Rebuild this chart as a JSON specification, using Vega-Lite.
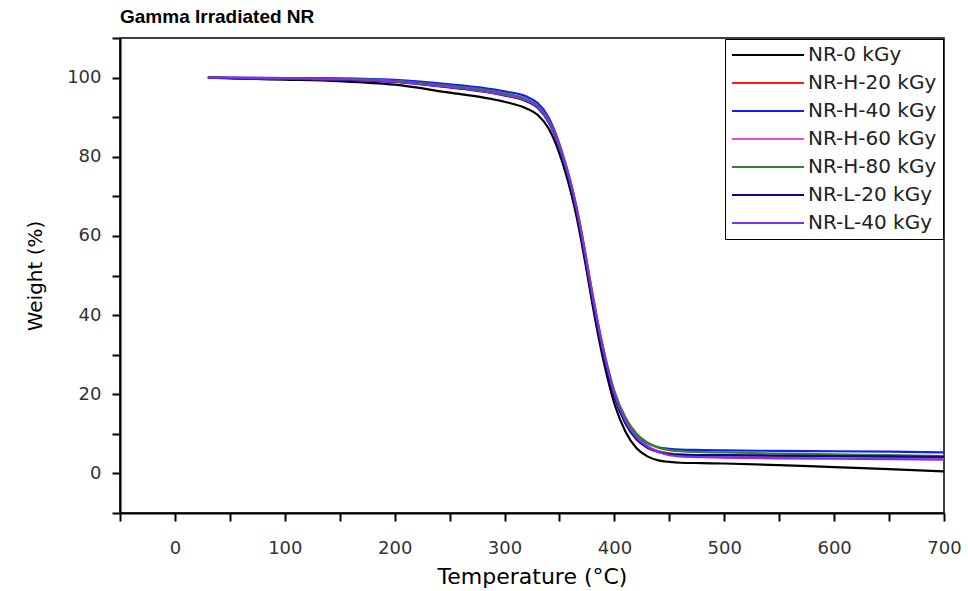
{
  "$schema": "https://vega.github.io/schema/vega-lite/v6.json",
  "autosize": {"type": "none"},
  "padding": {"left": 120, "top": 38, "right": 24, "bottom": 78},
  "width": 824,
  "height": 475,
  "background": "white",
  "title": {"text": "Gamma Irradiated NR", "anchor": "start", "frame": "group", "font": "Liberation Sans", "fontWeight": "bold", "fontSize": 19, "color": "black", "offset": 0, "baseline": "alphabetic", "dy": 13},
  "config": {
    "view": {"stroke": "black", "strokeWidth": 1.5},
    "axis": {"grid": false, "domainColor": "black", "domainWidth": 2, "tickColor": "black", "tickWidth": 2, "tickSize": 8, "labelFont": "DejaVu Sans", "labelFontSize": 18, "labelColor": "#333", "titleFont": "DejaVu Sans", "titleFontWeight": "normal", "titleColor": "black"}
  },
  "datasets": {
    "tga": [
      {"s":"NR-0 kGy","t":30,"w":100},{"s":"NR-0 kGy","t":50,"w":99.8},{"s":"NR-0 kGy","t":100,"w":99.5},{"s":"NR-0 kGy","t":150,"w":99.1},{"s":"NR-0 kGy","t":200,"w":98.2},{"s":"NR-0 kGy","t":250,"w":96.2},{"s":"NR-0 kGy","t":280,"w":95.0},{"s":"NR-0 kGy","t":300,"w":93.9},{"s":"NR-0 kGy","t":320,"w":92.2},{"s":"NR-0 kGy","t":330,"w":90.6},{"s":"NR-0 kGy","t":340,"w":87.2},{"s":"NR-0 kGy","t":345,"w":84.4},{"s":"NR-0 kGy","t":350,"w":80.8},{"s":"NR-0 kGy","t":355,"w":76.5},{"s":"NR-0 kGy","t":360,"w":71.5},{"s":"NR-0 kGy","t":365,"w":65.6},{"s":"NR-0 kGy","t":370,"w":58.6},{"s":"NR-0 kGy","t":375,"w":50.8},{"s":"NR-0 kGy","t":380,"w":42.8},{"s":"NR-0 kGy","t":385,"w":35.3},{"s":"NR-0 kGy","t":390,"w":28.6},{"s":"NR-0 kGy","t":395,"w":22.7},{"s":"NR-0 kGy","t":400,"w":17.6},{"s":"NR-0 kGy","t":410,"w":10.6},{"s":"NR-0 kGy","t":420,"w":6.4},{"s":"NR-0 kGy","t":430,"w":4.3},{"s":"NR-0 kGy","t":440,"w":3.3},{"s":"NR-0 kGy","t":450,"w":2.9},{"s":"NR-0 kGy","t":460,"w":2.7},{"s":"NR-0 kGy","t":480,"w":2.6},{"s":"NR-0 kGy","t":500,"w":2.5},{"s":"NR-0 kGy","t":550,"w":2.1},{"s":"NR-0 kGy","t":600,"w":1.6},{"s":"NR-0 kGy","t":650,"w":1.1},{"s":"NR-0 kGy","t":700,"w":0.5},
      {"s":"NR-H-20 kGy","t":30,"w":100},{"s":"NR-H-20 kGy","t":50,"w":99.9},{"s":"NR-H-20 kGy","t":100,"w":99.8},{"s":"NR-H-20 kGy","t":150,"w":99.6},{"s":"NR-H-20 kGy","t":200,"w":99.1},{"s":"NR-H-20 kGy","t":250,"w":97.8},{"s":"NR-H-20 kGy","t":280,"w":96.9},{"s":"NR-H-20 kGy","t":300,"w":95.8},{"s":"NR-H-20 kGy","t":320,"w":94.4},{"s":"NR-H-20 kGy","t":330,"w":92.8},{"s":"NR-H-20 kGy","t":340,"w":89.2},{"s":"NR-H-20 kGy","t":345,"w":86.3},{"s":"NR-H-20 kGy","t":350,"w":82.5},{"s":"NR-H-20 kGy","t":355,"w":78.2},{"s":"NR-H-20 kGy","t":360,"w":73.2},{"s":"NR-H-20 kGy","t":365,"w":67.3},{"s":"NR-H-20 kGy","t":370,"w":60.2},{"s":"NR-H-20 kGy","t":375,"w":52.3},{"s":"NR-H-20 kGy","t":380,"w":44.3},{"s":"NR-H-20 kGy","t":385,"w":36.9},{"s":"NR-H-20 kGy","t":390,"w":30.3},{"s":"NR-H-20 kGy","t":395,"w":24.5},{"s":"NR-H-20 kGy","t":400,"w":19.6},{"s":"NR-H-20 kGy","t":410,"w":12.8},{"s":"NR-H-20 kGy","t":420,"w":8.8},{"s":"NR-H-20 kGy","t":430,"w":6.7},{"s":"NR-H-20 kGy","t":440,"w":5.6},{"s":"NR-H-20 kGy","t":450,"w":5.1},{"s":"NR-H-20 kGy","t":460,"w":4.8},{"s":"NR-H-20 kGy","t":480,"w":4.6},{"s":"NR-H-20 kGy","t":500,"w":4.5},{"s":"NR-H-20 kGy","t":550,"w":4.3},{"s":"NR-H-20 kGy","t":600,"w":4.2},{"s":"NR-H-20 kGy","t":650,"w":4.1},{"s":"NR-H-20 kGy","t":700,"w":4.0},
      {"s":"NR-H-40 kGy","t":30,"w":100},{"s":"NR-H-40 kGy","t":50,"w":100},{"s":"NR-H-40 kGy","t":100,"w":99.9},{"s":"NR-H-40 kGy","t":150,"w":99.8},{"s":"NR-H-40 kGy","t":200,"w":99.4},{"s":"NR-H-40 kGy","t":250,"w":98.3},{"s":"NR-H-40 kGy","t":280,"w":97.4},{"s":"NR-H-40 kGy","t":300,"w":96.5},{"s":"NR-H-40 kGy","t":320,"w":95.2},{"s":"NR-H-40 kGy","t":330,"w":93.6},{"s":"NR-H-40 kGy","t":340,"w":90.0},{"s":"NR-H-40 kGy","t":345,"w":87.0},{"s":"NR-H-40 kGy","t":350,"w":83.2},{"s":"NR-H-40 kGy","t":355,"w":78.8},{"s":"NR-H-40 kGy","t":360,"w":73.8},{"s":"NR-H-40 kGy","t":365,"w":67.8},{"s":"NR-H-40 kGy","t":370,"w":60.8},{"s":"NR-H-40 kGy","t":375,"w":52.9},{"s":"NR-H-40 kGy","t":380,"w":45.0},{"s":"NR-H-40 kGy","t":385,"w":37.6},{"s":"NR-H-40 kGy","t":390,"w":31.0},{"s":"NR-H-40 kGy","t":395,"w":25.2},{"s":"NR-H-40 kGy","t":400,"w":20.2},{"s":"NR-H-40 kGy","t":410,"w":13.6},{"s":"NR-H-40 kGy","t":420,"w":9.6},{"s":"NR-H-40 kGy","t":430,"w":7.6},{"s":"NR-H-40 kGy","t":440,"w":6.6},{"s":"NR-H-40 kGy","t":450,"w":6.2},{"s":"NR-H-40 kGy","t":460,"w":6.0},{"s":"NR-H-40 kGy","t":480,"w":5.9},{"s":"NR-H-40 kGy","t":500,"w":5.8},{"s":"NR-H-40 kGy","t":550,"w":5.7},{"s":"NR-H-40 kGy","t":600,"w":5.6},{"s":"NR-H-40 kGy","t":650,"w":5.5},{"s":"NR-H-40 kGy","t":700,"w":5.3},
      {"s":"NR-H-60 kGy","t":30,"w":100},{"s":"NR-H-60 kGy","t":50,"w":99.9},{"s":"NR-H-60 kGy","t":100,"w":99.7},{"s":"NR-H-60 kGy","t":150,"w":99.5},{"s":"NR-H-60 kGy","t":200,"w":99.0},{"s":"NR-H-60 kGy","t":250,"w":97.6},{"s":"NR-H-60 kGy","t":280,"w":96.6},{"s":"NR-H-60 kGy","t":300,"w":95.5},{"s":"NR-H-60 kGy","t":320,"w":94.1},{"s":"NR-H-60 kGy","t":330,"w":92.5},{"s":"NR-H-60 kGy","t":340,"w":89.0},{"s":"NR-H-60 kGy","t":345,"w":86.2},{"s":"NR-H-60 kGy","t":350,"w":82.6},{"s":"NR-H-60 kGy","t":355,"w":78.5},{"s":"NR-H-60 kGy","t":360,"w":73.7},{"s":"NR-H-60 kGy","t":365,"w":68.0},{"s":"NR-H-60 kGy","t":370,"w":61.2},{"s":"NR-H-60 kGy","t":375,"w":53.5},{"s":"NR-H-60 kGy","t":380,"w":45.6},{"s":"NR-H-60 kGy","t":385,"w":38.2},{"s":"NR-H-60 kGy","t":390,"w":31.5},{"s":"NR-H-60 kGy","t":395,"w":25.6},{"s":"NR-H-60 kGy","t":400,"w":20.5},{"s":"NR-H-60 kGy","t":410,"w":13.4},{"s":"NR-H-60 kGy","t":420,"w":9.2},{"s":"NR-H-60 kGy","t":430,"w":6.9},{"s":"NR-H-60 kGy","t":440,"w":5.6},{"s":"NR-H-60 kGy","t":450,"w":4.9},{"s":"NR-H-60 kGy","t":460,"w":4.5},{"s":"NR-H-60 kGy","t":480,"w":4.3},{"s":"NR-H-60 kGy","t":500,"w":4.2},{"s":"NR-H-60 kGy","t":550,"w":4.0},{"s":"NR-H-60 kGy","t":600,"w":3.9},{"s":"NR-H-60 kGy","t":650,"w":3.8},{"s":"NR-H-60 kGy","t":700,"w":3.7},
      {"s":"NR-H-80 kGy","t":30,"w":100},{"s":"NR-H-80 kGy","t":50,"w":99.9},{"s":"NR-H-80 kGy","t":100,"w":99.8},{"s":"NR-H-80 kGy","t":150,"w":99.6},{"s":"NR-H-80 kGy","t":200,"w":99.2},{"s":"NR-H-80 kGy","t":250,"w":97.9},{"s":"NR-H-80 kGy","t":280,"w":97.0},{"s":"NR-H-80 kGy","t":300,"w":96.0},{"s":"NR-H-80 kGy","t":320,"w":94.6},{"s":"NR-H-80 kGy","t":330,"w":93.0},{"s":"NR-H-80 kGy","t":340,"w":89.4},{"s":"NR-H-80 kGy","t":345,"w":86.5},{"s":"NR-H-80 kGy","t":350,"w":82.7},{"s":"NR-H-80 kGy","t":355,"w":78.4},{"s":"NR-H-80 kGy","t":360,"w":73.5},{"s":"NR-H-80 kGy","t":365,"w":67.7},{"s":"NR-H-80 kGy","t":370,"w":60.8},{"s":"NR-H-80 kGy","t":375,"w":53.0},{"s":"NR-H-80 kGy","t":380,"w":45.2},{"s":"NR-H-80 kGy","t":385,"w":37.9},{"s":"NR-H-80 kGy","t":390,"w":31.4},{"s":"NR-H-80 kGy","t":395,"w":25.7},{"s":"NR-H-80 kGy","t":400,"w":20.8},{"s":"NR-H-80 kGy","t":410,"w":14.2},{"s":"NR-H-80 kGy","t":420,"w":10.1},{"s":"NR-H-80 kGy","t":430,"w":7.8},{"s":"NR-H-80 kGy","t":440,"w":6.5},{"s":"NR-H-80 kGy","t":450,"w":5.9},{"s":"NR-H-80 kGy","t":460,"w":5.6},{"s":"NR-H-80 kGy","t":480,"w":5.4},{"s":"NR-H-80 kGy","t":500,"w":5.3},{"s":"NR-H-80 kGy","t":550,"w":5.0},{"s":"NR-H-80 kGy","t":600,"w":4.8},{"s":"NR-H-80 kGy","t":650,"w":4.6},{"s":"NR-H-80 kGy","t":700,"w":4.4},
      {"s":"NR-L-20 kGy","t":30,"w":100},{"s":"NR-L-20 kGy","t":50,"w":99.9},{"s":"NR-L-20 kGy","t":100,"w":99.7},{"s":"NR-L-20 kGy","t":150,"w":99.5},{"s":"NR-L-20 kGy","t":200,"w":98.9},{"s":"NR-L-20 kGy","t":250,"w":97.5},{"s":"NR-L-20 kGy","t":280,"w":96.5},{"s":"NR-L-20 kGy","t":300,"w":95.5},{"s":"NR-L-20 kGy","t":320,"w":94.0},{"s":"NR-L-20 kGy","t":330,"w":92.4},{"s":"NR-L-20 kGy","t":340,"w":88.8},{"s":"NR-L-20 kGy","t":345,"w":85.9},{"s":"NR-L-20 kGy","t":350,"w":82.1},{"s":"NR-L-20 kGy","t":355,"w":77.8},{"s":"NR-L-20 kGy","t":360,"w":72.8},{"s":"NR-L-20 kGy","t":365,"w":66.9},{"s":"NR-L-20 kGy","t":370,"w":59.9},{"s":"NR-L-20 kGy","t":375,"w":52.0},{"s":"NR-L-20 kGy","t":380,"w":44.0},{"s":"NR-L-20 kGy","t":385,"w":36.6},{"s":"NR-L-20 kGy","t":390,"w":30.0},{"s":"NR-L-20 kGy","t":395,"w":24.2},{"s":"NR-L-20 kGy","t":400,"w":19.3},{"s":"NR-L-20 kGy","t":410,"w":12.6},{"s":"NR-L-20 kGy","t":420,"w":8.6},{"s":"NR-L-20 kGy","t":430,"w":6.5},{"s":"NR-L-20 kGy","t":440,"w":5.4},{"s":"NR-L-20 kGy","t":450,"w":4.9},{"s":"NR-L-20 kGy","t":460,"w":4.7},{"s":"NR-L-20 kGy","t":480,"w":4.6},{"s":"NR-L-20 kGy","t":500,"w":4.6},{"s":"NR-L-20 kGy","t":550,"w":4.5},{"s":"NR-L-20 kGy","t":600,"w":4.4},{"s":"NR-L-20 kGy","t":650,"w":4.3},{"s":"NR-L-20 kGy","t":700,"w":4.2},
      {"s":"NR-L-40 kGy","t":30,"w":100},{"s":"NR-L-40 kGy","t":50,"w":100},{"s":"NR-L-40 kGy","t":100,"w":99.8},{"s":"NR-L-40 kGy","t":150,"w":99.6},{"s":"NR-L-40 kGy","t":200,"w":99.0},{"s":"NR-L-40 kGy","t":250,"w":97.6},{"s":"NR-L-40 kGy","t":280,"w":96.6},{"s":"NR-L-40 kGy","t":300,"w":95.6},{"s":"NR-L-40 kGy","t":320,"w":94.2},{"s":"NR-L-40 kGy","t":330,"w":92.6},{"s":"NR-L-40 kGy","t":340,"w":89.0},{"s":"NR-L-40 kGy","t":345,"w":86.1},{"s":"NR-L-40 kGy","t":350,"w":82.4},{"s":"NR-L-40 kGy","t":355,"w":78.2},{"s":"NR-L-40 kGy","t":360,"w":73.4},{"s":"NR-L-40 kGy","t":365,"w":67.6},{"s":"NR-L-40 kGy","t":370,"w":60.7},{"s":"NR-L-40 kGy","t":375,"w":52.9},{"s":"NR-L-40 kGy","t":380,"w":45.0},{"s":"NR-L-40 kGy","t":385,"w":37.6},{"s":"NR-L-40 kGy","t":390,"w":31.0},{"s":"NR-L-40 kGy","t":395,"w":25.2},{"s":"NR-L-40 kGy","t":400,"w":20.2},{"s":"NR-L-40 kGy","t":410,"w":13.3},{"s":"NR-L-40 kGy","t":420,"w":9.1},{"s":"NR-L-40 kGy","t":430,"w":6.8},{"s":"NR-L-40 kGy","t":440,"w":5.4},{"s":"NR-L-40 kGy","t":450,"w":4.6},{"s":"NR-L-40 kGy","t":460,"w":4.3},{"s":"NR-L-40 kGy","t":480,"w":4.1},{"s":"NR-L-40 kGy","t":500,"w":4.0},{"s":"NR-L-40 kGy","t":550,"w":3.8},{"s":"NR-L-40 kGy","t":600,"w":3.7},{"s":"NR-L-40 kGy","t":650,"w":3.6},{"s":"NR-L-40 kGy","t":700,"w":3.5}
    ]
  },
  "data": {"name": "tga"},
  "mark": {"type": "line", "strokeWidth": 2.2, "interpolate": "monotone", "clip": true},
  "encoding": {
    "x": {
      "field": "t", "type": "quantitative",
      "scale": {"domain": [-50, 700], "nice": false, "zero": false},
      "axis": {
        "title": "Temperature (°C)", "titleFontSize": 22, "titlePadding": 9, "labelPadding": 18,
        "values": [-50, 0, 50, 100, 150, 200, 250, 300, 350, 400, 450, 500, 550, 600, 650, 700],
        "labelExpr": "datum.value % 100 === 0 ? datum.label : ''",
        "labelFlush": false, "labelOverlap": false,
        "encode": {"ticks": {"update": {"y2": {"signal": "datum.value % 100 === 0 ? 8 : 5"}}}}
      }
    },
    "y": {
      "field": "w", "type": "quantitative",
      "scale": {"domain": [-10, 110], "nice": false, "zero": false},
      "axis": {
        "title": "Weight (%)", "titleFontSize": 20, "titlePadding": 21, "labelPadding": 11,
        "values": [-10, 0, 10, 20, 30, 40, 50, 60, 70, 80, 90, 100, 110],
        "labelExpr": "(datum.value % 20 === 0 && datum.value >= 0 && datum.value <= 100) ? datum.label : ''",
        "labelFlush": false, "labelOverlap": false,
        "encode": {"ticks": {"update": {"x2": {"signal": "datum.value % 20 === 0 ? -8 : -5"}}}}
      }
    },
    "color": {
      "field": "s", "type": "nominal",
      "scale": {
        "domain": ["NR-0 kGy", "NR-H-20 kGy", "NR-H-40 kGy", "NR-H-60 kGy", "NR-H-80 kGy", "NR-L-20 kGy", "NR-L-40 kGy"],
        "range": ["#000000", "#ff1a1a", "#1a1aff", "#ee44ee", "#2a8a2a", "#0a0a80", "#8030e8"]
      },
      "legend": {
        "title": null, "orient": "top-right", "offset": 1,
        "strokeColor": "black", "fillColor": "white", "padding": 6,
        "symbolType": "stroke", "symbolSize": 5184, "symbolStrokeWidth": 2, "clipHeight": 20, "rowPadding": 8,
        "labelFont": "DejaVu Sans", "labelFontSize": 20, "labelColor": "#222", "labelOffset": 3, "labelLimit": 300
      }
    }
  }
}
